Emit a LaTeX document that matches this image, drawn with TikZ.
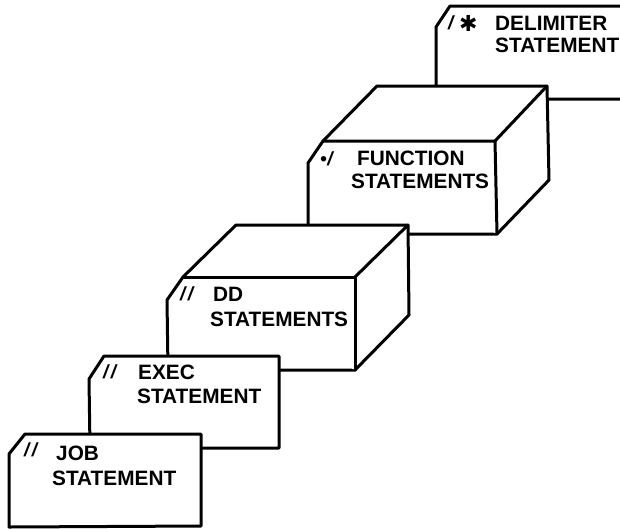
\documentclass[tikz,border=0pt]{standalone}
\usepackage{fontspec}
\setmainfont{Liberation Sans}
\newfontfamily\symfont{DejaVu Sans}
\begin{document}
\begin{tikzpicture}[x=1pt,y=-1pt,
  outline/.style={draw=black,line width=3pt,line join=round,line cap=round,fill=white},
  lbl/.style={font=\bfseries\fontsize{20.8}{22}\selectfont,anchor=base west,inner sep=0pt},
  slashes/.style={font=\bfseries\itshape\fontsize{19}{21}\selectfont,anchor=base west,inner sep=0pt}]
\useasboundingbox (0,0) rectangle (620,528);
% delimiter card
\draw[outline] (620,6) -- (450,6) -- (436,27) -- (436,99) -- (620,99);
\node[lbl] (d1) at (495,30) {DELIMITER};
\node[lbl] (d2) at (495,52) {STATEMENT};
\node[slashes] (dm) at (448,29) {/};
\node[font=\symfont\bfseries\fontsize{22}{24}\selectfont,anchor=base west,inner sep=0pt] (da) at (459,31) {✱};
% function box
\draw[outline] (377,86) -- (547,86) -- (549,180) -- (497,234) -- (308,234) -- (308,163) -- (323,141) -- cycle;
\draw[outline] (323,141) -- (495,141) -- (497,234);
\draw[outline] (495,141) -- (547,86);
\node[lbl] (f1) at (357,165) {FUNCTION};
\node[lbl] (f2) at (351,188) {STATEMENTS};
\node[slashes] (fm) at (320,165) {•\kern0.5pt/};
% DD box
\draw[outline] (236,225) -- (408,225) -- (409,315) -- (355,370) -- (168,370) -- (167,300) -- (183,277) -- cycle;
\draw[outline] (183,277) -- (355,277) -- (355,370);
\draw[outline] (355,277) -- (408,225);
\node[lbl] (g1) at (213,301) {DD};
\node[lbl] (g2) at (210,326) {STATEMENTS};
\node[slashes] (gm) at (180,300) {/\kern2.5pt/};
% exec card
\draw[outline] (104,356) -- (279,356) -- (279,448) -- (90,448) -- (89,379) -- cycle;
\node[lbl] (e1) at (138,379) {EXEC};
\node[lbl] (e2) at (137,403) {STATEMENT};
\node[slashes] (em) at (103,378) {/\kern2.5pt/};
% job card
\draw[outline] (25,434) -- (201,434) -- (201,526) -- (9,527) -- (9,454) -- cycle;
\node[lbl] (j1) at (56,460) {JOB};
\node[lbl] (j2) at (52,485) {STATEMENT};
\node[slashes] (jm) at (24,456) {/\kern2.5pt/};
\end{tikzpicture}
\end{document}
